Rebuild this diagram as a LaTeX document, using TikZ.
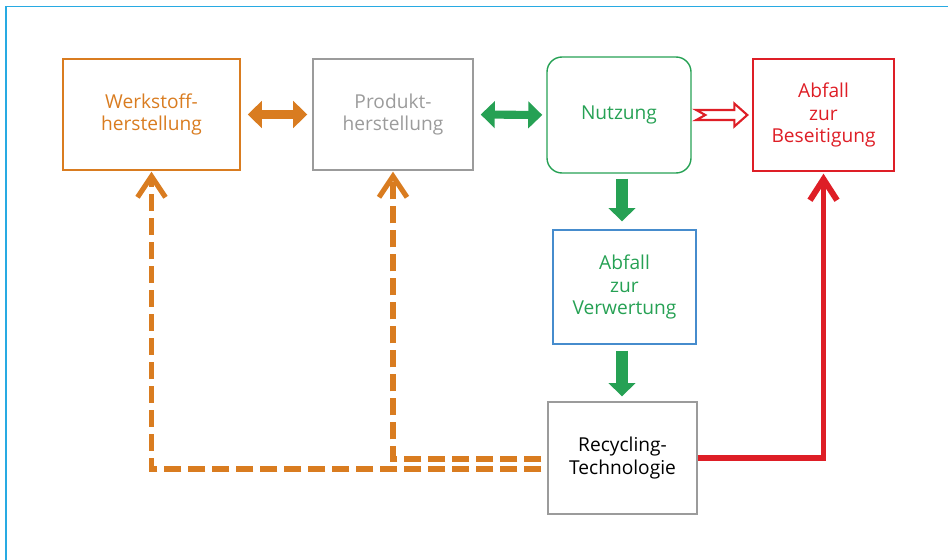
\documentclass[tikz,border=0pt]{standalone}
\usepackage{fontspec}
\setmainfont{Open Sans}
\usetikzlibrary{arrows.meta}

\definecolor{werkorange}{RGB}{217,124,32}
\definecolor{nutzgreen}{RGB}{38,161,84}
\definecolor{abfallred}{RGB}{222,30,38}
\definecolor{prodgray}{RGB}{155,155,155}
\definecolor{verwblue}{RGB}{70,140,205}
\definecolor{frameblue}{RGB}{40,170,226}

\tikzset{
    stage/.style={draw, line width=0.8pt, align=center, inner sep=0pt,
        font=\fontsize{10.9}{12.6}\selectfont},
    fatarrow/.style={line width=4.6pt,
        {Triangle[width=15pt,length=8pt]}-{Triangle[width=15pt,length=8pt]}},
    downarrow/.style={nutzgreen, line width=6.8pt, -{Triangle[width=15pt,length=7.5pt]}},
    returnline/.style={werkorange, line width=2.9pt, dash pattern=on 0.34cm off 0.14cm,
        -{Straight Barb[length=0.42cm,width=0.56cm]}},
    disposeline/.style={abfallred, line width=3.4pt,
        -{Straight Barb[length=0.42cm,width=0.54cm]}},
}

\begin{document}
\begin{tikzpicture}

            \useasboundingbox (0,0) rectangle (18.96,-11.2);
            \draw[frameblue, line width=0.9pt] (0.12,-11.2) -- (0.12,-0.13) -- (18.96,-0.13);

            \node[stage, werkorange, minimum width=3.54cm, minimum height=2.22cm] (werk) at (3.03,-2.29) {Werkstoff-\\herstellung};
            \node[stage, prodgray, minimum width=3.2cm, minimum height=2.22cm] (prod) at (7.86,-2.29) {Produkt-\\herstellung};
            \node[stage, nutzgreen, rounded corners=0.3cm, minimum width=2.88cm, minimum height=2.32cm] (nutz) at (12.38,-2.30) {Nutzung};
            \node[stage, abfallred, minimum width=2.82cm, minimum height=2.24cm] (beseit) at (16.47,-2.30) {Abfall\\zur\\Beseitigung};
            \node[stage, verwblue, text=nutzgreen, minimum width=2.86cm, minimum height=2.28cm] (verw) at (12.49,-5.74) {Abfall\\zur\\Verwertung};
            \node[stage, prodgray, text=black, minimum width=2.98cm, minimum height=2.24cm] (recyc) at (12.45,-9.16) {Recycling-\\Technologie};

            \draw[fatarrow, werkorange, shorten <=0.14cm, shorten >=0.1cm] (werk.east) -- (prod.west);
            \draw[fatarrow, nutzgreen, shorten <=0.14cm, shorten >=0.08cm] (prod.east) -- (nutz.west);

            \coordinate (redtip) at ([xshift=-0.1cm]beseit.west);
            \draw[abfallred, line width=1.2pt, line join=miter, fill=white] (redtip) -- ++(-0.26,0.23) -- ++(0,-0.13) -- ++(-0.76,0)
                -- ++(0.18,-0.10) -- ++(-0.18,-0.10) -- ++(0.76,0) -- ++(0,-0.13) -- cycle;

            \draw[downarrow] ([xshift=0.06cm,yshift=-0.1cm]nutz.south) -- ([xshift=-0.05cm,yshift=0.16cm]verw.north);
            \draw[downarrow] ([xshift=-0.05cm,yshift=-0.12cm]verw.south) -- ([xshift=-0.01cm,yshift=0.1cm]recyc.north);

            \draw[disposeline] (recyc.east) -| ([yshift=-0.04cm]beseit.south);

            \draw[returnline] ([xshift=-0.12cm,yshift=-0.22cm]recyc.west) -| ([yshift=-0.02cm]werk.south);
            \draw[returnline] ([xshift=-0.12cm,yshift=-0.02cm]recyc.west) -| ([yshift=-0.02cm]prod.south);

        \end{tikzpicture}
\end{document}
